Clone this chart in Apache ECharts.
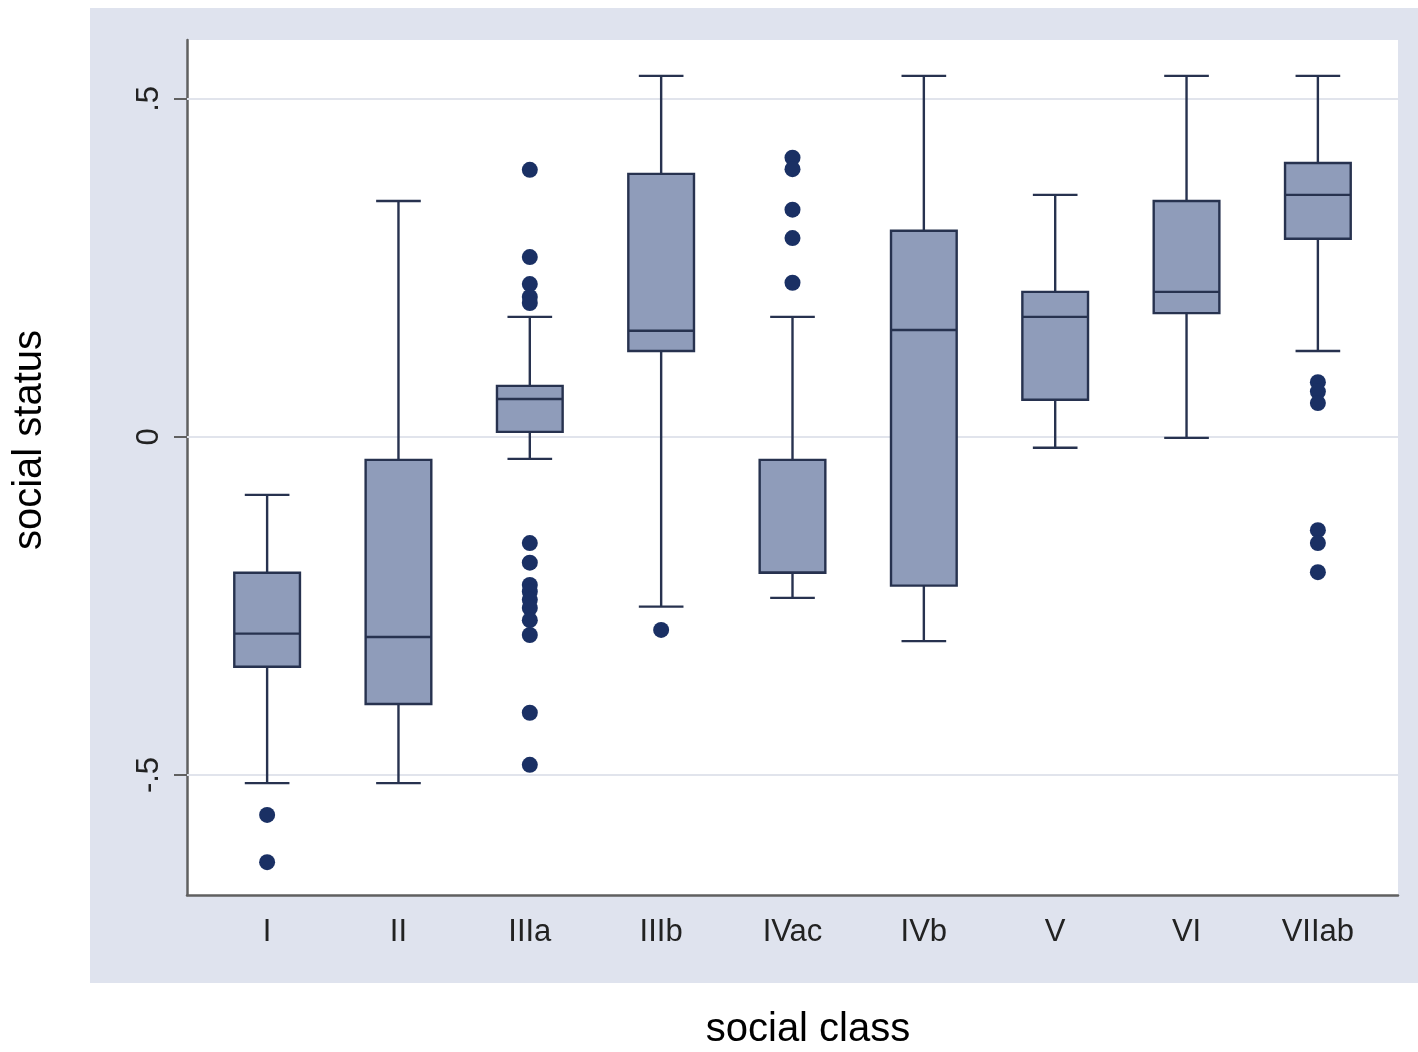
<!DOCTYPE html>
<html>
<head>
<meta charset="utf-8">
<script src="https://cdn.jsdelivr.net/npm/echarts@6/dist/echarts.min.js"></script>
<style>
html,body{margin:0;padding:0;background:#fff;}
#chart{width:1418px;height:1052px;}
</style>
</head>
<body>
<div id="chart"></div>
<script>
// categories
const categories = ['I','II','IIIa','IIIb','IVac','IVb','V','VI','VIIab'];
// box statistics per category: [lowerWhisker, Q1, median, Q3, upperWhisker]
const lowerWhisker = [-0.512, -0.512, -0.0325, -0.251, -0.238, -0.302, -0.016, -0.0015, 0.127];
const q1Values     = [-0.340, -0.395,  0.0074,  0.127, -0.201, -0.220,  0.055,  0.183,  0.293];
const medianValues = [-0.291, -0.296,  0.056,   0.157, -0.201,  0.158,  0.1775, 0.2145, 0.358];
const q3Values     = [-0.201, -0.034,  0.0754,  0.389, -0.034,  0.305,  0.2145, 0.349,  0.405];
const upperWhisker = [-0.0858, 0.349,  0.1775,  0.534,  0.1775, 0.534,  0.358,  0.534,  0.534];
// outliers: category index and value
const outlierCategory = [0,0, 2,2,2,2,2, 2,2,2,2,2,2,2,2,2,2, 3, 4,4,4,4,4, 8,8,8,8,8,8];
const outlierValue = [-0.559,-0.629,
  0.395,0.266,0.226,0.207,0.198,
  -0.157,-0.186,-0.219,-0.229,-0.241,-0.253,-0.271,-0.293,-0.408,-0.485,
  -0.2855,
  0.413,0.396,0.336,0.294,0.228,
  0.081,0.067,0.050,-0.138,-0.157,-0.200];
// y tick values and labels
const yTickValues = [-0.5, 0, 0.5];
const yTickLabels = ['-.5', '0', '.5'];

const boxData = categories.map((c, i) => [i, lowerWhisker[i], q1Values[i], medianValues[i], q3Values[i], upperWhisker[i]]);
const outlierData = outlierCategory.map((c, i) => [c, outlierValue[i]]);

const FONT = '"Liberation Sans", Arial, sans-serif';
const BOX_FILL = '#8f9cba';
const BOX_LINE = '#27324f';
const DOT = '#1a3064';

const chart = echarts.init(document.getElementById('chart'));

function renderBox(params, api) {
  const x = api.value(0);
  const band = api.size([1, 0])[0];
  const half = band * 0.25;
  const capHalf = band * 0.17;
  const pLow = api.coord([x, api.value(1)]);
  const pQ1 = api.coord([x, api.value(2)]);
  const pMed = api.coord([x, api.value(3)]);
  const pQ3 = api.coord([x, api.value(4)]);
  const pHigh = api.coord([x, api.value(5)]);
  const ls = {stroke: BOX_LINE, lineWidth: 2.4, fill: null};
  return {
    type: 'group',
    children: [
      {type: 'line', shape: {x1: pQ3[0], y1: pQ3[1], x2: pHigh[0], y2: pHigh[1]}, style: ls},
      {type: 'line', shape: {x1: pQ1[0], y1: pQ1[1], x2: pLow[0], y2: pLow[1]}, style: ls},
      {type: 'line', shape: {x1: pHigh[0] - capHalf, y1: pHigh[1], x2: pHigh[0] + capHalf, y2: pHigh[1]}, style: ls},
      {type: 'line', shape: {x1: pLow[0] - capHalf, y1: pLow[1], x2: pLow[0] + capHalf, y2: pLow[1]}, style: ls},
      {type: 'rect', shape: {x: pQ3[0] - half, y: pQ3[1], width: half * 2, height: pQ1[1] - pQ3[1]},
        style: {fill: BOX_FILL, stroke: BOX_LINE, lineWidth: 2.4}},
      {type: 'line', shape: {x1: pMed[0] - half, y1: pMed[1], x2: pMed[0] + half, y2: pMed[1]}, style: ls}
    ]
  };
}

const option = {
  backgroundColor: '#ffffff',
  animation: false,
  graphic: {
    elements: [
      {type: 'rect', z: -100, shape: {x: 90, y: 8, width: 1328, height: 975}, style: {fill: '#dfe3ee'}},
      {type: 'text', x: 808, y: 1030, style: {text: 'social class', font: '40px ' + FONT, fill: '#000', align: 'center', verticalAlign: 'middle'}},
      {type: 'text', x: 30, y: 440, rotation: Math.PI / 2, style: {text: 'social status', font: '40px ' + FONT, fill: '#000', align: 'center', verticalAlign: 'middle'}}
    ]
  },
  grid: {left: 187, right: 20, top: 40, bottom: 157, show: true, backgroundColor: '#ffffff', borderWidth: 0},
  xAxis: {
    type: 'value', min: -0.61, max: 8.61,
    axisLine: {show: true, onZero: false, lineStyle: {color: '#606060', width: 2.5}},
    axisTick: {show: false},
    splitLine: {show: false},
    axisLabel: {
      customValues: categories.map((c, i) => i),
      formatter: v => categories[Math.round(v)],
      fontFamily: FONT, fontSize: 31, color: '#222', margin: 22
    }
  },
  yAxis: {
    type: 'value', min: -0.6775, max: 0.587,
    axisLine: {show: true, onZero: false, lineStyle: {color: '#606060', width: 2.5}},
    axisTick: {show: true, customValues: yTickValues, length: 13, lineStyle: {color: '#606060', width: 2}},
    splitLine: {show: false},
    axisLabel: {
      customValues: yTickValues,
      formatter: v => yTickLabels[yTickValues.findIndex(t => Math.abs(t - v) < 1e-6)],
      rotate: 90, fontFamily: FONT, fontSize: 31, color: '#222', margin: 22
    }
  },
  series: [
    {
      type: 'line', data: [], z: 1, silent: true,
      markLine: {
        silent: true, z: 1, symbol: ['none', 'none'], label: {show: false},
        lineStyle: {color: '#e1e4ec', type: 'solid', width: 2},
        data: yTickValues.map(v => ({yAxis: v}))
      }
    },
    {
      type: 'custom', z: 3, renderItem: renderBox, data: boxData,
      encode: {x: 0, y: [1, 2, 3, 4, 5]}
    },
    {
      type: 'scatter', z: 4, data: outlierData, symbolSize: 16,
      itemStyle: {color: DOT, opacity: 1}
    }
  ]
};
chart.setOption(option);
</script>
</body>
</html>
